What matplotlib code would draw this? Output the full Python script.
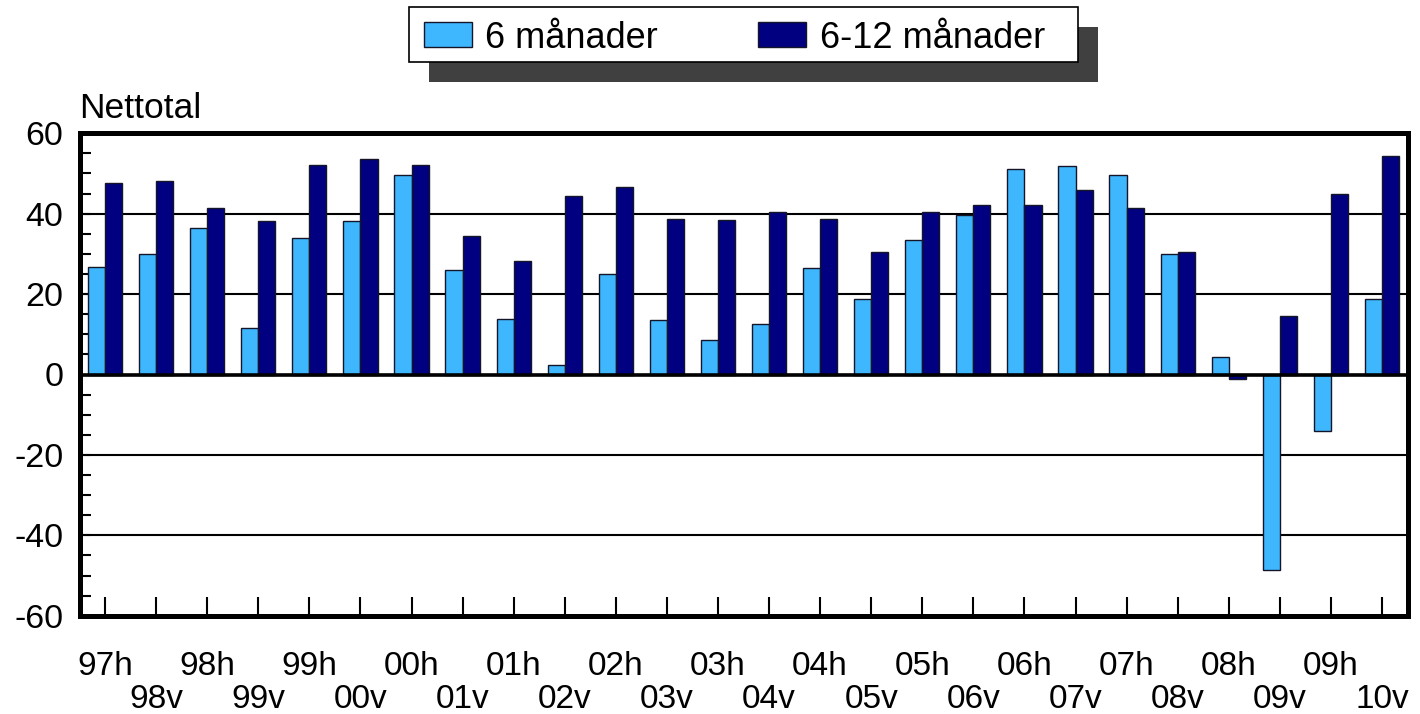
import matplotlib
matplotlib.use('Agg')
import matplotlib.pyplot as plt
import numpy as np
from matplotlib.patches import Rectangle
from matplotlib.ticker import MultipleLocator

plt.rcParams['font.family'] = ['Liberation Sans', 'DejaVu Sans']

categories = ['97h', '98v', '98h', '99v', '99h', '00v', '00h', '01v', '01h', '02v',
              '02h', '03v', '03h', '04v', '04h', '05v', '05h', '06v', '06h', '07v',
              '07h', '08v', '08h', '09v', '09h', '10v']
six_months = [26.7, 30.0, 36.5, 11.6, 34.0, 38.1, 49.7, 26.1, 13.7, 2.4,
              25.1, 13.5, 8.6, 12.6, 26.4, 18.7, 33.4, 39.8, 51.2, 51.9,
              49.7, 30.0, 4.3, -48.6, -14.0, 18.9]
six_twelve_months = [47.6, 48.2, 41.4, 38.1, 52.2, 53.7, 52.2, 34.4, 28.2, 44.5,
                     46.7, 38.7, 38.4, 40.5, 38.7, 30.4, 40.5, 42.1, 42.1, 46.0,
                     41.4, 30.4, -1.2, 14.5, 44.8, 54.4]
series_names = ['6 månader', '6-12 månader']
y_label = 'Nettotal'

LIGHT = '#3FB7FF'
DARK = '#000080'
EDGE = '#15152a'

W, H = 1420, 714
fig = plt.figure(figsize=(W / 100, H / 100), dpi=100)
fig.patch.set_facecolor('white')

ax_l, ax_r, ax_t, ax_b = 79.5, 1407.5, 133.3, 615.7
ax = fig.add_axes([ax_l / W, 1 - ax_b / H, (ax_r - ax_l) / W, (ax_b - ax_t) / H])

x = np.arange(len(categories))
bw = 0.335
ax.bar(x - bw / 2, six_months, bw, color=LIGHT, edgecolor=EDGE, linewidth=1.0, zorder=3)
ax.bar(x + bw / 2, six_twelve_months, bw, color=DARK, edgecolor=EDGE, linewidth=1.0, zorder=3)

ax.set_xlim(-0.5, len(categories) - 0.5)
ax.set_ylim(-60, 60)

# grid lines
ax.yaxis.set_major_locator(MultipleLocator(20))
ax.yaxis.set_minor_locator(MultipleLocator(5))
ax.set_axisbelow(True)
ax.grid(axis='y', which='major', color='black', linewidth=1.5)
ax.axhline(0, color='black', linewidth=2.6, zorder=4)

# x ticks in two rows
ax.set_xticks(x[::2])
ax.set_xticklabels(categories[::2])
ax.set_xticks(x[1::2], minor=True)
ax.set_xticklabels(categories[1::2], minor=True)
ax.tick_params(axis='x', which='major', direction='in', length=13.5, width=1.5,
               pad=25.5, labelsize=24, colors='black')
ax.tick_params(axis='x', which='minor', direction='in', length=13.5, width=1.5,
               pad=49, labelsize=24, colors='black')
ax.tick_params(axis='y', which='both', direction='in', length=8, width=1.5,
               colors='black')
ax.tick_params(axis='y', which='major', pad=11.5, labelsize=24.5)
ax.set_yticklabels([f'{int(v)}' for v in ax.get_yticks()])

for sp in ax.spines.values():
    sp.set_linewidth(3.6)
    sp.set_color('black')
    sp.set_zorder(5)

fig.text(ax_l / W, 1 - 118.3 / H, y_label, fontsize=25.5, ha='left', va='baseline')


def fig_rect(x0, y0, x1, y1, **kw):
    r = Rectangle((x0 / W, 1 - y1 / H), (x1 - x0) / W, (y1 - y0) / H,
                  transform=fig.transFigure, **kw)
    fig.patches.append(r)


# legend with shadow
fig_rect(429, 27, 1098, 82, facecolor='#404040', edgecolor='none', zorder=1)
fig_rect(409, 7, 1078, 62, facecolor='white', edgecolor='black', linewidth=1.2, zorder=2)
fig_rect(424, 22, 472, 47, facecolor=LIGHT, edgecolor=EDGE, linewidth=1.0, zorder=3)
fig_rect(758, 22, 806, 47, facecolor=DARK, edgecolor=EDGE, linewidth=1.0, zorder=3)
fig.text(485 / W, 1 - 48 / H, series_names[0], fontsize=26, ha='left', va='baseline', zorder=4)
fig.text(820 / W, 1 - 48 / H, series_names[1], fontsize=26, ha='left', va='baseline', zorder=4)

fig.savefig('out.png', dpi=100, facecolor='white')
